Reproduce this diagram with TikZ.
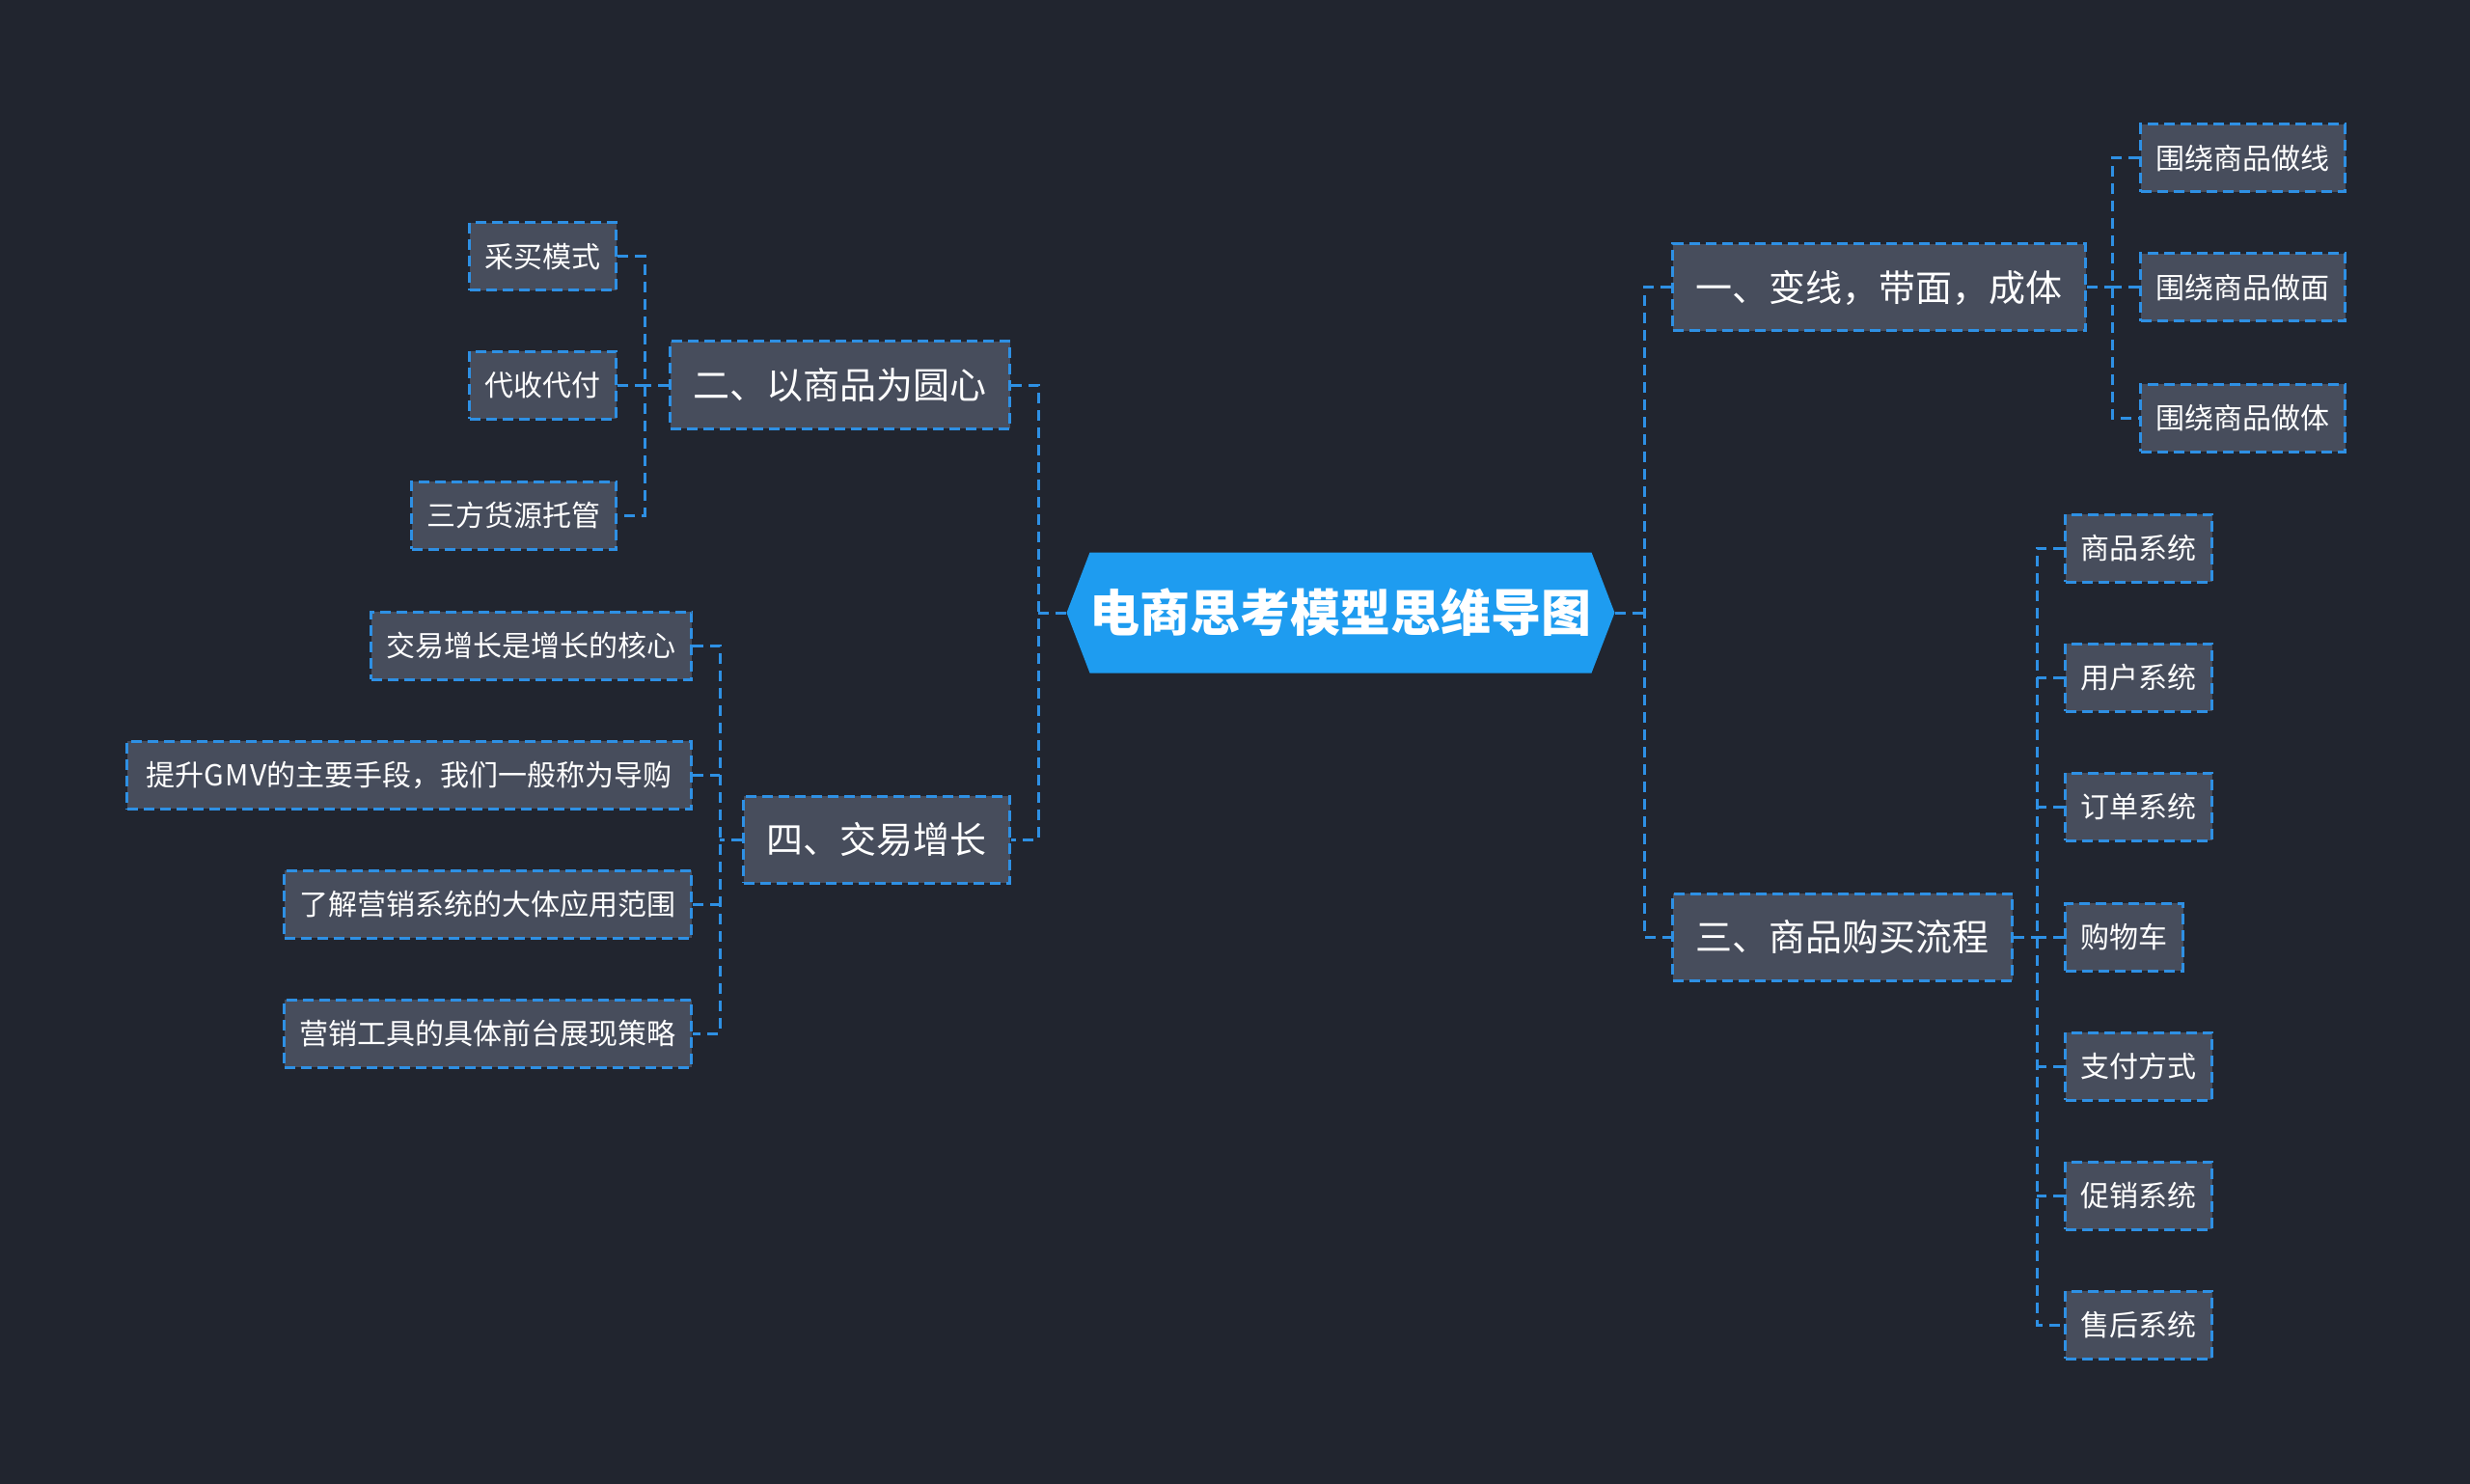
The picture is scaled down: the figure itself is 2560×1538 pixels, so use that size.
\documentclass[tikz,border=0pt]{standalone}
\usepackage{fontspec}
\setmainfont{Noto Sans CJK SC}
\usetikzlibrary{shapes.symbols}
\definecolor{bg}{HTML}{21252F}
\definecolor{boxfill}{HTML}{474D5C}
\definecolor{lineblue}{HTML}{2E90E4}
\definecolor{mainblue}{HTML}{1E9CF0}
\begin{document}
\begin{tikzpicture}[x=1pt,y=-1pt,
  conn/.style={draw=lineblue, line width=3pt, dash pattern=on 11pt off 7pt},
  leaf/.style={draw=lineblue, fill=boxfill, line width=3pt, dash pattern=on 11pt off 6pt, text=white, font=\fontsize{30}{36}\selectfont, minimum height=70pt, inner xsep=16pt, inner ysep=0pt},
  branch/.style={leaf, font=\fontsize{38}{46}\selectfont, minimum height=90pt, inner xsep=24pt},
  root/.style={shape=signal, signal to=west and east, signal pointer angle=138, fill=mainblue, text=white, font=\bfseries\fontsize{52}{60}\selectfont, minimum width=548pt, minimum height=125pt, inner sep=0pt}]
\fill[bg] (0,0) rectangle (2560,1538);
\useasboundingbox (0,0) rectangle (2560,1538);

\node[root] (c) at (1389.5,635) {电商思考模型思维导图};

\node[branch, anchor=west] (b1) at (1732,298) {一、变线，带面，成体};
\node[branch, anchor=east] (b2) at (1048,399) {二、以商品为圆心};
\node[branch, anchor=west] (b3) at (1732,971) {三、商品购买流程};
\node[branch, anchor=east] (b4) at (1048,870) {四、交易增长};

\node[leaf, anchor=west] (l1a) at (2217,164) {围绕商品做线};
\node[leaf, anchor=west] (l1b) at (2217,298) {围绕商品做面};
\node[leaf, anchor=west] (l1c) at (2217,433) {围绕商品做体};

\node[leaf, anchor=west] (l3a) at (2139,568) {商品系统};
\node[leaf, anchor=west] (l3b) at (2139,702) {用户系统};
\node[leaf, anchor=west] (l3c) at (2139,836) {订单系统};
\node[leaf, anchor=west] (l3d) at (2139,971) {购物车};
\node[leaf, anchor=west] (l3e) at (2139,1105) {支付方式};
\node[leaf, anchor=west] (l3f) at (2139,1239) {促销系统};
\node[leaf, anchor=west] (l3g) at (2139,1373) {售后系统};

\node[leaf, anchor=east] (l2a) at (640,266) {采买模式};
\node[leaf, anchor=east] (l2b) at (640,399) {代收代付};
\node[leaf, anchor=east] (l2c) at (640,534) {三方货源托管};

\node[leaf, anchor=east] (l4a) at (718,669) {交易增长是增长的核心};
\node[leaf, anchor=east, inner xsep=20pt] (l4b) at (718,803) {提升{\addfontfeatures{LetterSpace=4}GMV}的主要手段，我们一般称为导购};
\node[leaf, anchor=east] (l4c) at (718,937) {了解营销系统的大体应用范围};
\node[leaf, anchor=east] (l4d) at (718,1071) {营销工具的具体前台展现策略};

\coordinate (rt) at (1704,635);
\coordinate (lt) at (1076,635);
\coordinate (j1) at (2189,298);
\coordinate (j3) at (2111,971);
\coordinate (j2) at (668,399);
\coordinate (j4) at (746,870);

\draw[conn] (c.east) -- (rt);
\draw[conn] (b1.west) -| (rt) |- (b3.west);
\draw[conn] (c.west) -- (lt);
\draw[conn] (b2.east) -| (lt) |- (b4.east);

\draw[conn] (b1.east) -- (j1);
\draw[conn] (l1a.west) -| (j1) |- (l1c.west);
\draw[conn] (l1b.west) -- (j1);

\draw[conn] (b3.east) -- (j3);
\draw[conn] (l3a.west) -| (j3) |- (l3g.west);
\foreach \n in {l3b,l3c,l3d,l3e,l3f} \draw[conn] (\n.west) -- (j3 |- \n.west);

\draw[conn] (b2.west) -- (j2);
\draw[conn] (l2a.east) -| (j2) |- (l2c.east);
\draw[conn] (l2b.east) -- (j2);

\draw[conn] (b4.west) -- (j4);
\draw[conn] (l4a.east) -| (j4) |- (l4d.east);
\foreach \n in {l4b,l4c} \draw[conn] (\n.east) -- (j4 |- \n.east);
\end{tikzpicture}
\end{document}
